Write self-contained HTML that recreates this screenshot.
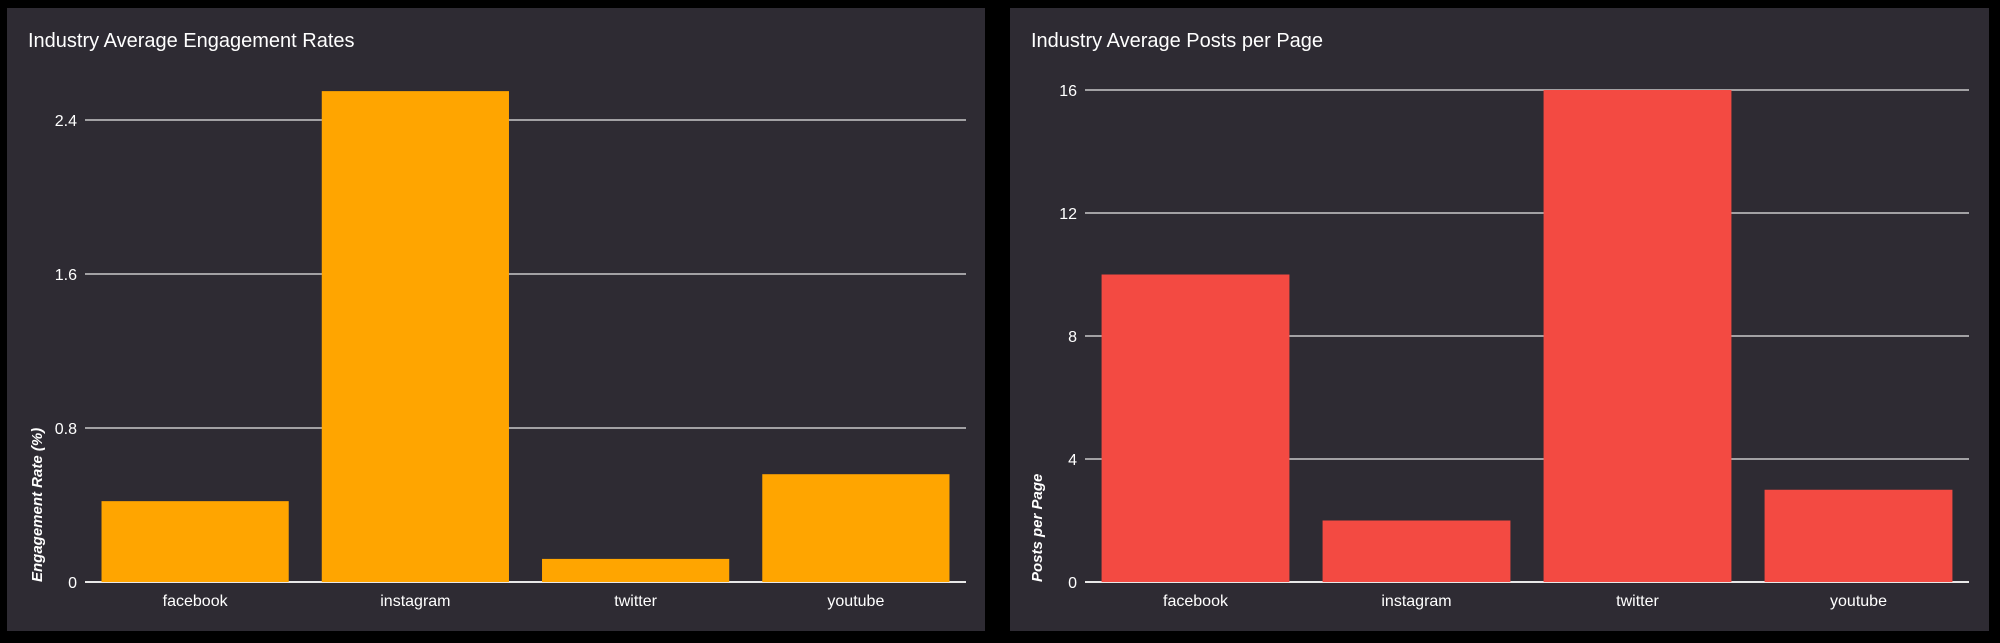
<!DOCTYPE html>
<html><head><meta charset="utf-8"><style>
html,body{margin:0;padding:0;background:#000;width:2000px;height:643px;overflow:hidden}
svg{position:absolute;left:0;top:0}
text{font-family:"Liberation Sans",sans-serif;fill:#fff}
</style></head><body>
<svg id="chart" width="2000" height="643">
<rect x="7" y="8" width="978" height="623" fill="#2e2b33"/>
<rect x="1010" y="8" width="979" height="623" fill="#2e2b33"/>
<text x="28" y="47" font-size="20">Industry Average Engagement Rates</text>
<text x="1031" y="47" font-size="20">Industry Average Posts per Page</text>
<g id="g1"></g><g id="g2"></g>
</svg>
<script>
const categories = ["facebook","instagram","twitter","youtube"];
const engagementValues = [0.42, 2.55, 0.12, 0.56];
const engagementTicks = [0, 0.8, 1.6, 2.4];
const postsValues = [10, 2, 16, 3];
const postsTicks = [0, 4, 8, 12, 16];
const NS = "http://www.w3.org/2000/svg";
function mk(tag, attrs, parent){const e=document.createElementNS(NS,tag);for(const k in attrs)e.setAttribute(k,attrs[k]);parent.appendChild(e);return e;}
function draw(g, vals, ticks, x0, x1, color, ytitle, prefix){
  const y0=582, yTop = prefix==="eng" ? 120 : 90;
  const topVal = ticks[ticks.length-1];
  const y = v => y0 - (v/topVal)*(y0-yTop);
  const band=(x1-x0)/categories.length, pad=band*0.075;
  ticks.forEach(t=>{
    const l=mk("line",{x1:x0,x2:x1,y1:y(t),y2:y(t),stroke:"#e8e8e8","stroke-width":t===0?2:1.3},g);
    
    
    const tx=mk("text",{x:x0-8,y:y(t)+6,"font-size":16,"text-anchor":"end"},g);
    tx.textContent=String(t);
    
    
  });
  vals.forEach((v,i)=>{
    const bx=x0+band*i+pad;
    const r=mk("rect",{x:bx,y:y(v),width:band-2*pad,height:y0-y(v),fill:color},g);
    
    
    const lt=mk("text",{x:x0+band*(i+0.5),y:606,"font-size":16,"text-anchor":"middle"},g);
    lt.textContent=categories[i];
    
    
  });
  const tt=mk("text",{x:0,y:0,"font-size":15,"font-weight":"600","font-style":"italic","text-anchor":"start",transform:`translate(${x0-43},582) rotate(-90)`},g);
  tt.textContent=ytitle;
  
  
}
draw(document.getElementById("g1"), engagementValues, engagementTicks, 85, 966, "#ffa500", "Engagement Rate (%)", "eng");
draw(document.getElementById("g2"), postsValues, postsTicks, 1085, 1969, "#f34a42", "Posts per Page", "posts");
</script>
</body></html>
